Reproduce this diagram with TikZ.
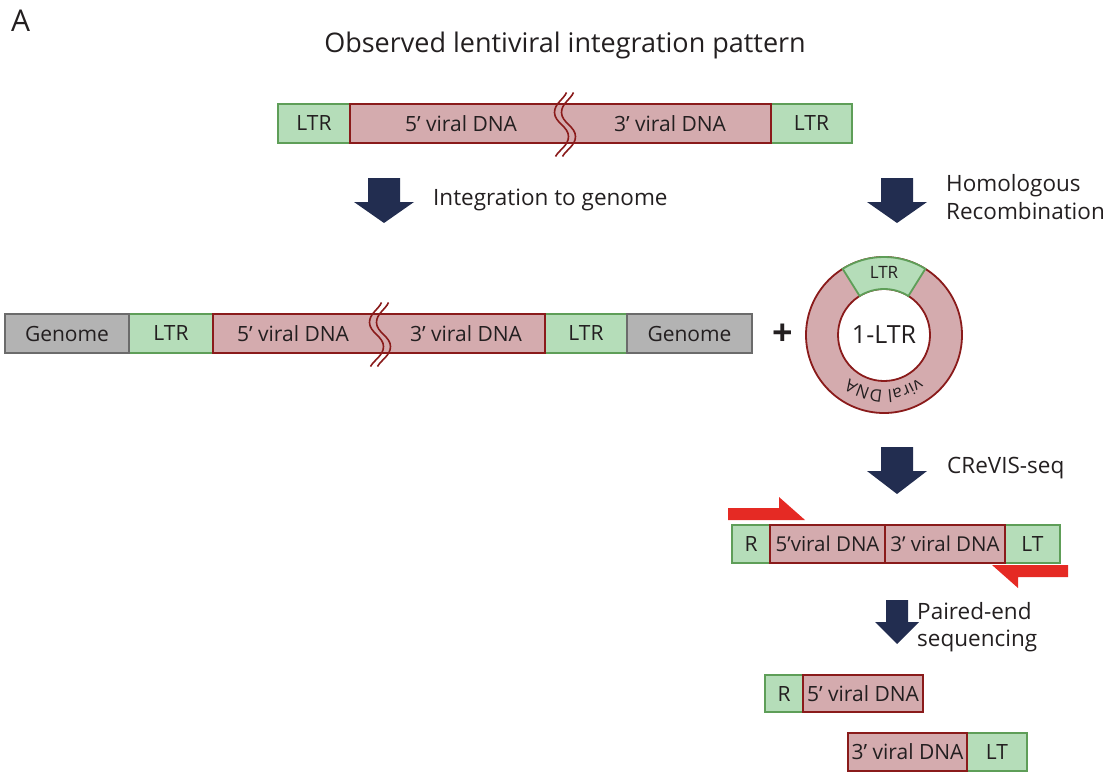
\documentclass[tikz,border=0pt]{standalone}
\usepackage{fontspec}
\setmainfont{Open Sans}
\usetikzlibrary{decorations.text}
\definecolor{grfill}{HTML}{B5DDB9}
\definecolor{grline}{HTML}{5E9E58}
\definecolor{rdfill}{HTML}{D4ABAE}
\definecolor{rdline}{HTML}{8A1B1B}
\definecolor{gyfill}{HTML}{B3B3B3}
\definecolor{gyline}{HTML}{6B6B6B}
\definecolor{navy}{HTML}{222D50}
\definecolor{primer}{HTML}{E52A24}
\definecolor{txt}{HTML}{231F20}
\newcommand\BlockArr[6]{% cx, top, headstart, tip, halfshaft, halfhead
  \fill[navy] ({#1-#5},#2) -- ({#1+#5},#2) -- ({#1+#5},#3) -- ({#1+#6},#3) -- (#1,#4) -- ({#1-#6},#3) -- ({#1-#5},#3) -- cycle;}
\newcommand\BrkLine[2]{%
  \draw[brk] ({#1+5},{#2-31}) .. controls ({#1+2},{#2-24}) and ({#1-7},{#2-20}) .. ({#1-7},{#2-11})
   .. controls ({#1-7},{#2-1}) and ({#1+7},{#2+3}) .. ({#1+7},{#2+13})
   .. controls ({#1+7},{#2+22}) and ({#1-3},{#2+27}) .. ({#1-6},{#2+33});}
\newcommand\BrkMark[2]{\BrkLine{#1-3.5}{#2}\BrkLine{#1+3.5}{#2}}
\tikzset{
 seg/.style={draw, line width=1.8pt, minimum height=39pt, inner sep=0pt, font=\fontsize{21}{21}\selectfont, text=txt},
 ltrbox/.style={seg, fill=grfill, draw=grline},
 dnabox/.style={seg, fill=rdfill, draw=rdline},
 genbox/.style={seg, fill=gyfill, draw=gyline},
 lbl/.style={font=\fontsize{21}{21}\selectfont, text=txt, inner sep=0pt},
 side/.style={font=\fontsize{22.5}{27.5}\selectfont, text=txt, inner sep=0pt, anchor=west, align=left},
 brk/.style={draw=rdline, line width=1.6pt},
}
\begin{document}
\begin{tikzpicture}[x=1pt, y=-1pt]
\useasboundingbox (0,0) rectangle (1115,773);
% heading
\node[font=\fontsize{30}{30}\selectfont, text=txt, anchor=west, inner sep=0pt] (lA) at (11,21) {A};
\node[font=\fontsize{27}{27}\selectfont, text=txt, inner sep=0pt] (title) at (565,45) {Observed lentiviral integration pattern};
% top construct
\node[ltrbox, minimum width=72pt] (tL) at (314,123.5) {LTR};
\node[ltrbox, minimum width=81pt] (tR) at (811.5,123.5) {LTR};
\node[dnabox, minimum width=421pt] (tV) at (560.5,123.5) {};
\node[lbl] (t5) at (461,124) {5’ viral DNA};
\node[lbl] (t3) at (670,124) {3’ viral DNA};
\BrkMark{565}{123.5}
% arrows
\BlockArr{384}{178}{202}{223}{16}{30}
\node[side] (integ) at (433,200) {Integration to genome};
\BlockArr{897}{178}{202}{223}{16}{30}
\node[side] (homrec) at (946,197) {Homologous\\Recombination};
% genome row
\node[ltrbox, minimum width=84pt] (gL1) at (171,333.5) {LTR};
\node[ltrbox, minimum width=82pt] (gL2) at (586,333.5) {LTR};
\node[genbox, minimum width=124pt] (g1) at (67,333.5) {Genome};
\node[genbox, minimum width=125pt] (g2) at (689.5,333.5) {Genome};
\node[dnabox, minimum width=332pt] (gV) at (379,333.5) {};
\node[lbl] (g5) at (293,334) {5’ viral DNA};
\node[lbl] (g3) at (466,334) {3’ viral DNA};
\BrkMark{380}{333.5}
\node[font=\fontsize{36}{36}\selectfont\bfseries, text=txt, inner sep=0pt] (plus) at (783,335) {+};
% 1-LTR circle
\begin{scope}[shift={(884,335)}, x=1pt, y=1pt]
\coordinate (ring) at (0,0);
\fill[rdfill, even odd rule] (ring) circle[radius=78] (ring) circle[radius=46];
\draw[rdline, line width=1.8pt] (ring) circle[radius=78] (ring) circle[radius=46];
\filldraw[fill=grfill, draw=grline, line width=1.8pt] (58:78) arc[start angle=58, end angle=122, radius=78] -- (122:46) arc[start angle=122, end angle=58, radius=46] -- cycle;
\node[font=\fontsize{17}{17}\selectfont, text=txt, inner sep=0pt] (ringltr) at (0,63) {LTR};
\node[font=\fontsize{25}{25}\selectfont, text=txt, inner sep=0pt] (oneltr) at (0,0) {1-LTR};
\path[decorate, decoration={text along path, text align=center, text color=txt, text={|\fontsize{17}{17}\selectfont|viral DNA}}]
  (-15:55) arc[start angle=-15, end angle=-165, radius=55];
\end{scope}
% CReVIS-seq
\BlockArr{897}{447}{471}{494}{16}{30}
\node[side] (crevis) at (947,468) {CReVIS-seq};
\node[ltrbox, minimum width=38pt, minimum height=38pt] (cR) at (751,544) {R};
\node[ltrbox, minimum width=55pt, minimum height=38pt] (cLT) at (1032.5,544) {LT};
\node[dnabox, minimum width=115pt, minimum height=38pt, font=\fontsize{20.5}{20.5}\selectfont] (c5) at (827.5,544) {5’viral DNA};
\node[dnabox, minimum width=120pt, minimum height=38pt, font=\fontsize{20.5}{20.5}\selectfont] (c3) at (945,544) {3’ viral DNA};
\fill[primer] (728,508) -- (779,508) -- (779,497) -- (805,520) -- (728,520) -- cycle;
\fill[primer] (992,565) -- (1068,565) -- (1068,577) -- (1018,577) -- (1018,588) -- cycle;
% paired-end
\BlockArr{897}{600}{622}{644}{11}{22}
\node[side] (paired) at (917,627) {Paired-end\\sequencing};
\node[ltrbox, minimum width=38pt, minimum height=37pt] (pR) at (784,693.5) {R};
\node[dnabox, minimum width=120pt, minimum height=37pt] (p5) at (863,693.5) {5’ viral DNA};
\node[ltrbox, minimum width=60pt, minimum height=38pt] (pLT) at (997,752) {LT};
\node[dnabox, minimum width=119pt, minimum height=38pt] (p3) at (907.5,752) {3’ viral DNA};
\end{tikzpicture}
\end{document}
